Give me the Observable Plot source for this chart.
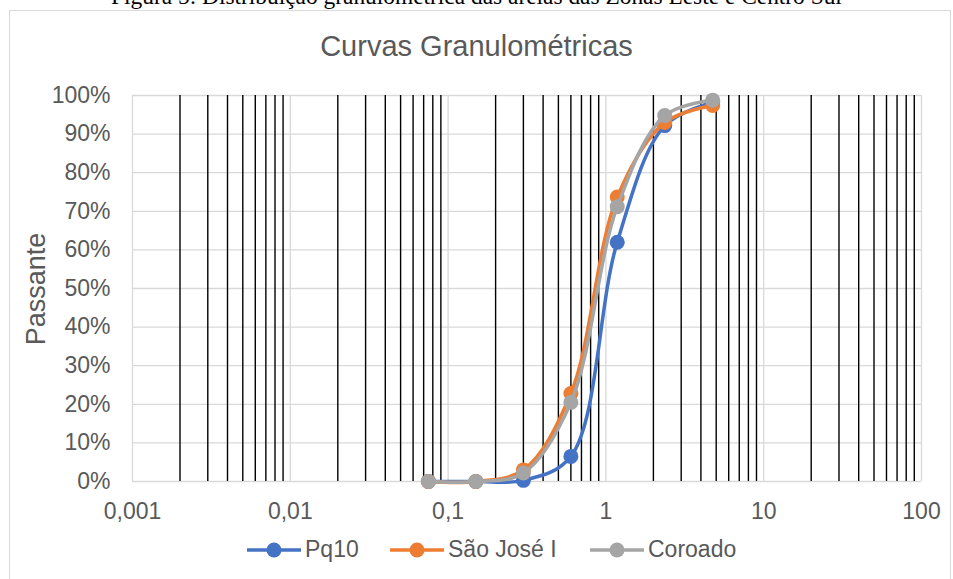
<!DOCTYPE html>
<html>
<head>
<meta charset="utf-8">
<script src="https://cdn.jsdelivr.net/npm/d3@7"></script>
<script src="https://cdn.jsdelivr.net/npm/@observablehq/plot@0.6"></script>
<style>
  body { margin: 0; background: #fff; }
  #wrap { position: relative; width: 953px; height: 579px; overflow: hidden; font-family: "Liberation Sans", Arial, sans-serif; }
  #caption { position: absolute; left: 0; width: 953px; top: -14.6px; line-height: 1; text-align: center; font-family: "Liberation Serif", "Times New Roman", serif; font-size: 23.4px; color: #000; white-space: nowrap; }
  #box { position: absolute; left: 9px; top: 10px; width: 942px; height: 620px; border: 1px solid #d9d9d9; box-sizing: border-box; }
  #title { position: absolute; left: 0; width: 953px; top: 30px; text-align: center; font-size: 29px; color: #595959; }
  #ylabel { position: absolute; left: 36px; top: 289px; transform: translate(-50%, -50%) rotate(-90deg); font-size: 27px; color: #595959; white-space: nowrap; }
  #chart { position: absolute; left: 0; top: 0; }
  .leg { position: absolute; top: 536px; display: flex; align-items: center; font-size: 23px; color: #595959; white-space: nowrap; }
  .leg svg { margin-right: 4px; }
</style>
</head>
<body>
<div id="wrap">
  <div id="caption">Figura 5: Distribuição granulométrica das areias das Zonas Leste e Centro Sul</div>
  <div id="box"></div>
  <div id="title">Curvas Granulométricas</div>
  <div id="ylabel">Passante</div>
  <div id="chart"></div>
  <div id="legend"></div>
</div>
<script>
// Sieve opening (mm)
const sizes = [0.075, 0.15, 0.3, 0.6, 1.18, 2.36, 4.75];
// Percent passing (fraction)
const pq10    = [0, 0, 0.003, 0.065, 0.62, 0.922, 0.982];
const saoJose = [0, 0, 0.030, 0.228, 0.737, 0.930, 0.974];
const coroado = [0, 0, 0.022, 0.205, 0.712, 0.948, 0.988];

const seriesNames = ["Pq10", "São José I", "Coroado"];
const seriesColors = ["#4472C4", "#ED7D31", "#A5A5A5"];
const seriesValues = [pq10, saoJose, coroado];

const xTicks = [0.001, 0.01, 0.1, 1, 10, 100];
const yTicks = [0, 0.1, 0.2, 0.3, 0.4, 0.5, 0.6, 0.7, 0.8, 0.9, 1];
const minorMultipliers = [2, 3, 4, 5, 6, 7, 8, 9];
const decades = [0.001, 0.01, 0.1, 1, 10];
const minorLines = decades.flatMap(d => minorMultipliers.map(m => m * d));

const rows = seriesNames.flatMap((name, i) =>
  sizes.map((s, j) => ({ series: name, size: s, pass: seriesValues[i][j] })));

const colorOf = Object.fromEntries(seriesNames.map((n, i) => [n, seriesColors[i]]));

const marks = [
  Plot.ruleY(yTicks, { stroke: "#d9d9d9", strokeWidth: 1.3 }),
  Plot.ruleX(xTicks, { y1: 0, y2: 1, stroke: "#d9d9d9", strokeWidth: 1.3 }),
  Plot.ruleX(minorLines, { y1: 0, y2: 1, stroke: "#000", strokeWidth: 1.4 }),
  Plot.axisY({ ticks: yTicks, tickSize: 0, tickPadding: 22, tickFormat: d3.format(".0%"), label: null }),
  Plot.axisX({ ticks: xTicks, tickSize: 0, tickPadding: 21, tickFormat: d => String(d).replace(".", ","), label: null })
];
seriesNames.forEach(name => {
  const data = rows.filter(r => r.series === name);
  marks.push(Plot.line(data, { x: "size", y: "pass", stroke: colorOf[name], strokeWidth: 3.5, curve: "catmull-rom" }));
  marks.push(Plot.dot(data, { x: "size", y: "pass", fill: colorOf[name], r: 7.5 }));
});

const chart = Plot.plot({
  width: 953,
  height: 579,
  marginLeft: 132,
  marginRight: 32,
  marginTop: 95,
  marginBottom: 98,
  x: { type: "log", domain: [0.001, 100] },
  y: { domain: [0, 1] },
  style: { fontFamily: "'Liberation Sans', Arial, sans-serif", fontSize: "23px", color: "#595959", background: "transparent", overflow: "visible" },
  marks
});
document.getElementById("chart").appendChild(chart);

// Legend
const legendX = [247, 390, 590];
const legend = document.getElementById("legend");
seriesNames.forEach((name, i) => {
  const item = document.createElement("div");
  item.className = "leg";
  item.style.left = legendX[i] + "px";
  item.innerHTML = `<svg width="54" height="26"><line x1="0" x2="54" y1="13" y2="13" stroke="${seriesColors[i]}" stroke-width="3.5"/><circle cx="27" cy="13" r="7.5" fill="${seriesColors[i]}"/></svg><span>${name}</span>`;
  legend.appendChild(item);
});
</script>
</body>
</html>
